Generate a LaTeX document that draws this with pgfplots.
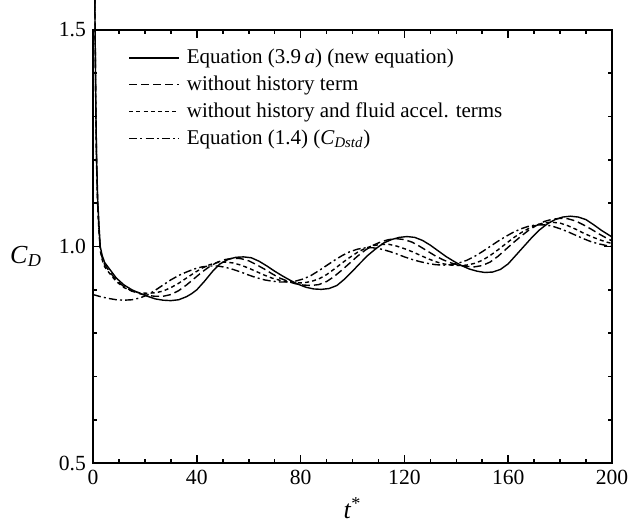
\documentclass[border=0pt]{standalone}
\usepackage{fontspec}
\setmainfont{Liberation Serif}
\usepackage{pgfplots}
\pgfplotsset{compat=1.18}
\begin{document}
\begin{tikzpicture}
\begin{axis}[
  scale only axis,
  width=259.5pt, height=216.5pt,
  xmin=0, xmax=200, ymin=0.5, ymax=1.5,
  clip=false,
  xtick={0,40,80,120,160,200},
  ytick={0.5,1.0,1.5},
  minor x tick num=3,
  minor y tick num=4,
  tick align=inside,
  major tick length=4pt,
  minor tick length=2pt,
  axis line style={line width=1.1pt},
  every tick/.style={line width=0.8pt, black},
  /pgf/number format/assume math mode=true,
  yticklabel style={/pgf/number format/.cd, fixed, fixed zerofill, precision=1},
  xticklabel style={/pgf/number format/fixed},
  tick label style={font=\fontsize{10.8}{12}\selectfont},
  xlabel={\textit{t}\textsuperscript{*}},
  ylabel={\textit{C}\textsubscript{\textit{D}}},
  label style={font=\fontsize{13}{15}\selectfont},
  xlabel style={at={(axis description cs:0.5,-0.104)}, anchor=center},
  ylabel style={at={(axis description cs:-0.129,0.477)}, rotate=-90, anchor=center},
  legend style={draw=none, fill=none, at={(axis description cs:0.056,0.975)}, anchor=north west,
    font=\fontsize{10.5}{12}\selectfont, row sep=0.6pt},
  legend cell align=left,
  legend image code/.code={\draw[#1] (0pt,0pt) -- (25pt,0pt); \path (26.5pt,0pt);},
  every axis plot/.append style={line width=0.7pt, black, no marks},
]
\addplot[black, no marks] coordinates {
(0.7,1.57)(0.9,1.45)(1.1,1.32)(1.4,1.2)(1.8,1.11)(2.3,1.05)(2.8,1.0)(3.5,0.98)(4.5,0.963)(6.5,0.947)(9,0.927)(12,0.911)(15,0.900)(18,0.892)(21,0.885)(24,0.879)(27,0.876)(30,0.875)(33,0.877)(36,0.884)(38,0.891)(40,0.9)(43,0.92)(46,0.942)(49,0.96)(52,0.970)(55,0.975)(58,0.976)(61,0.974)(64,0.966)(67,0.955)(70,0.943)(73,0.932)(76,0.922)(79,0.913)(82,0.906)(85,0.902)(88,0.901)(91,0.903)(94,0.91)(97,0.925)(100,0.943)(103,0.962)(106,0.98)(109,0.995)(112,1.008)(115,1.016)(118,1.021)(121,1.023)(124,1.021)(127,1.014)(130,1.003)(133,0.99)(136,0.977)(139,0.966)(142,0.956)(145,0.948)(148,0.943)(151,0.940)(154,0.941)(157,0.947)(160,0.96)(163,0.98)(166,1.0)(169,1.02)(172,1.038)(175,1.052)(178,1.062)(181,1.068)(184,1.070)(187,1.068)(190,1.062)(193,1.05)(196,1.037)(200,1.022)
};
\addlegendentry{Equation (3.9\,\textit{a}) (new equation)}
\addplot[black, no marks, dash pattern=on 4pt off 2pt] coordinates {
(0.7,1.57)(0.9,1.44)(1.1,1.31)(1.4,1.19)(1.8,1.10)(2.3,1.04)(2.8,0.995)(3.5,0.975)(4.5,0.958)(6.5,0.941)(9,0.922)(12,0.907)(15,0.897)(18,0.891)(21,0.887)(24,0.885)(27,0.885)(30,0.889)(33,0.898)(36,0.911)(39,0.926)(42,0.941)(45,0.954)(48,0.964)(51,0.970)(54,0.973)(57,0.972)(60,0.967)(63,0.958)(66,0.948)(69,0.937)(72,0.927)(75,0.920)(78,0.914)(81,0.911)(84,0.910)(87,0.912)(90,0.919)(93,0.931)(96,0.946)(99,0.962)(102,0.978)(105,0.992)(108,1.003)(111,1.011)(114,1.016)(117,1.018)(120,1.016)(123,1.010)(126,1.000)(129,0.989)(132,0.978)(135,0.969)(138,0.962)(141,0.957)(144,0.954)(147,0.953)(150,0.956)(153,0.964)(156,0.977)(159,0.993)(162,1.009)(165,1.024)(168,1.038)(171,1.049)(174,1.058)(177,1.063)(180,1.065)(183,1.064)(186,1.059)(189,1.050)(192,1.040)(195,1.029)(198,1.019)(200,1.013)
};
\addlegendentry{without history term}
\addplot[black, no marks, dash pattern=on 2pt off 1.6pt] coordinates {
(0.7,1.57)(0.9,1.43)(1.1,1.30)(1.4,1.18)(1.8,1.09)(2.3,1.035)(2.8,0.99)(3.5,0.97)(4.5,0.953)(6.5,0.937)(9,0.919)(12,0.905)(15,0.897)(18,0.893)(21,0.892)(24,0.893)(27,0.897)(30,0.905)(33,0.915)(36,0.927)(39,0.939)(42,0.950)(45,0.958)(48,0.963)(51,0.964)(54,0.962)(57,0.957)(60,0.950)(63,0.942)(66,0.934)(69,0.927)(72,0.922)(75,0.918)(78,0.916)(81,0.916)(84,0.919)(87,0.925)(90,0.935)(93,0.948)(96,0.962)(99,0.975)(102,0.987)(105,0.996)(108,1.002)(111,1.005)(114,1.005)(117,1.001)(120,0.995)(123,0.988)(126,0.980)(129,0.972)(132,0.965)(135,0.960)(138,0.957)(141,0.956)(144,0.957)(147,0.961)(150,0.968)(153,0.979)(156,0.992)(159,1.006)(162,1.020)(165,1.032)(168,1.042)(171,1.050)(174,1.055)(177,1.056)(180,1.054)(183,1.048)(186,1.040)(189,1.031)(192,1.023)(195,1.016)(198,1.010)(200,1.007)
};
\addlegendentry{without history and fluid accel. terms}
\addplot[black, no marks, dash pattern=on 4pt off 1.6pt on 1pt off 1.6pt] coordinates {
(0,0.889)(3,0.884)(6,0.880)(9,0.877)(12,0.876)(15,0.877)(18,0.881)(21,0.888)(24,0.899)(27,0.911)(30,0.923)(33,0.933)(36,0.941)(39,0.948)(42,0.953)(45,0.955)(48,0.955)(51,0.952)(54,0.947)(57,0.941)(60,0.934)(63,0.928)(66,0.923)(69,0.920)(72,0.918)(75,0.918)(78,0.920)(81,0.925)(84,0.933)(87,0.944)(90,0.956)(93,0.968)(96,0.979)(99,0.988)(102,0.994)(105,0.997)(108,0.997)(111,0.994)(114,0.989)(117,0.983)(120,0.976)(123,0.970)(126,0.965)(129,0.961)(132,0.958)(135,0.957)(138,0.958)(141,0.962)(144,0.968)(147,0.977)(150,0.988)(153,1.0)(156,1.012)(159,1.023)(162,1.033)(165,1.041)(168,1.047)(171,1.050)(174,1.050)(177,1.047)(180,1.041)(183,1.034)(186,1.026)(189,1.018)(192,1.011)(195,1.006)(198,1.002)(200,1.000)
};
\addlegendentry{Equation (1.4) (\textit{C}\textsubscript{\textit{Dstd}})}
\end{axis}
\pgfresetboundingbox
\path (current axis.south west) ++(-46.5pt,-30.5pt);
\path (current axis.north east) ++(8.5pt,15pt);
\end{tikzpicture}
\end{document}
